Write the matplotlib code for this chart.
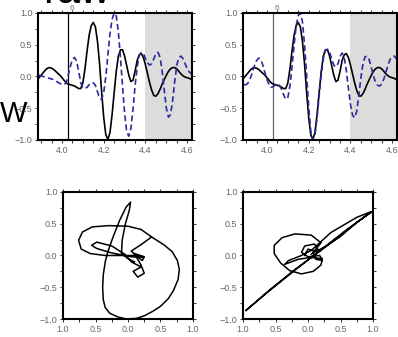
import numpy as np
import matplotlib.pyplot as plt
from matplotlib.ticker import MultipleLocator, FixedLocator, FixedFormatter

# time axis of the traces (s)
t = np.round(np.arange(3.89, 4.6201, 0.01), 2)

# black trace (same in both panels)
black = [-0.02, 0.02, 0.06, 0.10, 0.13, 0.14, 0.13, 0.11, 0.08, 0.05,
         0.02, -0.02, -0.06, -0.10, -0.12, -0.13, -0.14, -0.15, -0.17, -0.19,
         -0.19, -0.10, 0.12, 0.40, 0.65, 0.80, 0.85, 0.78, 0.55, 0.20,
         -0.25, -0.65, -0.92, -0.99, -0.88, -0.60, -0.25, 0.08, 0.32, 0.42,
         0.42, 0.32, 0.17, 0.02, -0.08, -0.06, 0.08, 0.25, 0.34, 0.36,
         0.30, 0.18, 0.04, -0.10, -0.22, -0.30, -0.31, -0.27, -0.20, -0.12,
         -0.05, 0.02, 0.08, 0.12, 0.14, 0.14, 0.12, 0.08, 0.04, 0.01,
         -0.01, -0.02, -0.03, -0.05]

# blue dashed trace, left panel
blue_l = [0.02, 0.01, 0.00, -0.01, -0.02, -0.03, -0.04, -0.05, -0.07, -0.09,
          -0.11, -0.12, -0.13, -0.10, 0.02, 0.16, 0.27, 0.30, 0.24, 0.08,
          -0.10, -0.18, -0.19, -0.17, -0.13, -0.10, -0.10, -0.14, -0.24, -0.34,
          -0.36, -0.25, 0.00, 0.35, 0.68, 0.90, 1.00, 0.95, 0.70, 0.30,
          -0.15, -0.58, -0.87, -0.94, -0.82, -0.52, -0.15, 0.15, 0.33, 0.38,
          0.36, 0.28, 0.21, 0.18, 0.20, 0.28, 0.36, 0.38, 0.30, 0.08,
          -0.22, -0.50, -0.64, -0.60, -0.38, -0.08, 0.18, 0.30, 0.32, 0.28,
          0.20, 0.12, 0.07, 0.04]

# blue dashed trace, right panel
blue_r = [-0.13, -0.13, -0.10, -0.03, 0.06, 0.17, 0.25, 0.29, 0.27, 0.18,
          0.06, -0.05, -0.13, -0.17, -0.16, -0.13, -0.12, -0.14, -0.20, -0.29,
          -0.36, -0.33, -0.15, 0.15, 0.50, 0.80, 0.96, 1.00, 0.86, 0.50,
          0.02, -0.48, -0.86, -1.00, -0.92, -0.65, -0.30, 0.03, 0.28, 0.41,
          0.43, 0.38, 0.28, 0.18, 0.15, 0.20, 0.31, 0.37, 0.30, 0.10,
          -0.18, -0.44, -0.61, -0.65, -0.55, -0.30, -0.02, 0.20, 0.31, 0.32,
          0.26, 0.14, 0.01, -0.09, -0.14, -0.15, -0.12, -0.04, 0.07, 0.18,
          0.27, 0.31, 0.32, 0.28]

# particle motion, bottom left
pm_l_x = [0.36, 0.20, 0.05, 0.12, 0.22, 0.25, 0.10, 0.20, 0.25, 0.15,
          0.08, 0.20, 0.05, -0.05, -0.25, -0.48, -0.56, -0.48, -0.25, 0.05,
          0.24, 0.10, -0.10, -0.35, -0.58, -0.72, -0.76, -0.70, -0.55, -0.30,
          0.00, 0.20, 0.38, 0.55, 0.68, 0.76, 0.79, 0.77, 0.70, 0.62,
          0.50, 0.38, 0.25, 0.13, -0.02, -0.15, -0.28, -0.35, -0.38, -0.39,
          -0.38, -0.35, -0.31, -0.23, -0.13, -0.03, 0.04, 0.02, -0.04, -0.09,
          -0.10, 0.00, 0.10]
pm_l_y = [0.29, 0.17, 0.07, 0.00, -0.08, -0.02, 0.03, -0.15, -0.28, -0.34,
          -0.25, -0.18, -0.10, 0.02, 0.15, 0.21, 0.16, 0.11, 0.04, -0.02,
          -0.03, 0.00, 0.00, 0.00, 0.03, 0.10, 0.24, 0.37, 0.45, 0.47,
          0.46, 0.41, 0.28, 0.17, 0.06, -0.08, -0.22, -0.38, -0.55, -0.68,
          -0.80, -0.88, -0.95, -0.99, -1.00, -0.97, -0.91, -0.82, -0.70, -0.50,
          -0.30, -0.10, 0.06, 0.29, 0.55, 0.76, 0.84, 0.71, 0.50, 0.24,
          0.03, -0.05, -0.10]

# particle motion, bottom right
pm_r_x = [0.05, 0.15, 0.10, -0.05, -0.10, 0.00, 0.18, 0.22, 0.12, 0.08,
          0.20, 0.05, -0.20, -0.40, -0.52, -0.52, -0.42, -0.28, -0.10, 0.08,
          0.20, 0.22, 0.05, -0.15, -0.36, -0.30, -0.10, 0.05, 0.18, 0.35,
          0.55, 0.75, 0.97, 0.60, 0.20, -0.20, -0.60, -0.96, -0.60, -0.20,
          0.20, 0.60, 0.97, 0.75, 0.50, 0.30, 0.12, 0.00, -0.05]
pm_r_y = [0.02, 0.10, 0.18, 0.15, 0.05, -0.02, 0.00, -0.08, -0.06, 0.05,
          0.20, 0.32, 0.34, 0.28, 0.16, 0.03, -0.12, -0.24, -0.29, -0.25,
          -0.15, -0.05, -0.03, -0.06, -0.14, -0.08, 0.00, 0.08, 0.20, 0.36,
          0.48, 0.60, 0.69, 0.40, 0.08, -0.22, -0.55, -0.87, -0.56, -0.23,
          0.09, 0.41, 0.68, 0.52, 0.30, 0.16, 0.06, 0.10, 0.00]

pm_xticklabels = ['1.0', '0.5', '0.0', '0.5', '1.0']

blue = '#2b2b9e'
tick_col = '#666666'

fig = plt.figure(figsize=(3.98, 3.37), dpi=100)
plt.rcParams['font.family'] = 'Liberation Sans'


def style(ax):
    for s in ax.spines.values():
        s.set_linewidth(1.5)
    ax.tick_params(which='both', direction='out', top=True, right=True,
                   length=2.5, width=0.7, labelsize=6.5, pad=1.5,
                   labelcolor=tick_col, color='#333333')


# top traces
for i, bl in enumerate([blue_l, blue_r]):
    ax = fig.add_axes([0.0955 + i * 0.515, 0.5846, 0.387, 0.377])
    ax.axvspan(4.4, 4.7, color='#dcdcdc', lw=0, zorder=0)
    ax.axvline(4.027, color='black' if i == 0 else '#666666', lw=0.9)
    ax.plot(t, black, color='black', lw=1.2)
    ax.plot(t, bl, color=blue, lw=1.2, ls=(0, (3.5, 2)))
    ax.set_xlim(3.885, 4.623)
    ax.set_ylim(-1.0, 1.0)
    ax.xaxis.set_major_locator(MultipleLocator(0.2))
    ax.xaxis.set_minor_locator(MultipleLocator(0.05))
    ax.yaxis.set_major_locator(MultipleLocator(0.5))
    ax.yaxis.set_minor_locator(MultipleLocator(0.25))
    style(ax)
    ax.text(4.035, 1.02, '6', fontsize=6, color='#777777', va='bottom')

# bottom particle motion
for i, (px, py) in enumerate([(pm_l_x, pm_l_y), (pm_r_x, pm_r_y)]):
    left = [0.1583, 0.6106][i]
    ax = fig.add_axes([left, 0.0534, 0.3266, 0.377])
    ax.plot(px, py, color='black', lw=1.1)
    ax.set_xlim(-1, 1)
    ax.set_ylim(-1, 1)
    ax.xaxis.set_major_locator(FixedLocator([-1, -0.5, 0, 0.5, 1]))
    ax.xaxis.set_major_formatter(FixedFormatter(pm_xticklabels))
    ax.xaxis.set_minor_locator(MultipleLocator(0.25))
    ax.yaxis.set_major_locator(MultipleLocator(0.5))
    ax.yaxis.set_minor_locator(MultipleLocator(0.25))
    style(ax)

fig.text(0.0, 1 - 121.5 / 337, 'W', fontsize=21, color='black', va='baseline')
fig.text(43 / 398, 1 - 3 / 337, 'raw', fontsize=30, color='black', va='baseline')

fig.savefig('out.png', dpi=100)
